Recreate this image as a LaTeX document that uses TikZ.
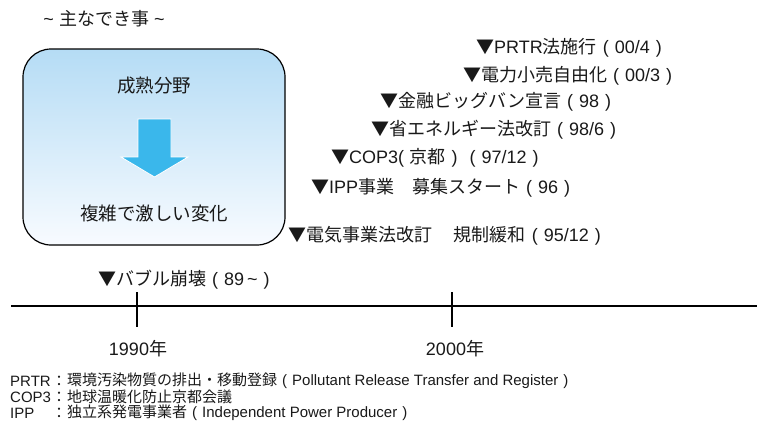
\documentclass[tikz,border=0pt]{standalone}
\usepackage{fontspec}
\setmainfont{Liberation Sans}
\newfontfamily\jp{Noto Sans CJK JP}
\newcommand{\J}[1]{{\jp #1}}
\newcommand{\LP}{\makebox[1em][c]{(}}
\newcommand{\RP}{\makebox[1em][c]{)}}
\newcommand{\TRI}{{\jp ▼}}
\definecolor{boxtop}{RGB}{181,220,245}
\definecolor{boxbot}{RGB}{248,251,255}
\definecolor{arrowblue}{RGB}{58,183,235}
\definecolor{txt}{RGB}{25,25,25}
\tikzset{
  ev/.style={anchor=west, inner sep=0pt, text=txt, font=\fontsize{18}{20}\selectfont},
  yr/.style={anchor=center, inner sep=0pt, text=txt, font=\fontsize{18}{20}\selectfont},
  fn/.style={anchor=west, inner sep=0pt, text=txt, font=\fontsize{15}{17}\selectfont},
  fnc/.style={anchor=center, inner sep=0pt, text=txt, font=\fontsize{15}{17}\selectfont},
  boxtxt/.style={anchor=center, inner sep=0pt, text=txt, font=\fontsize{18.5}{21}\selectfont},
  axis/.style={line width=2.5pt},
}
\begin{document}
\begin{tikzpicture}[x=1pt,y=-1pt]
\useasboundingbox (0,0) rectangle (760,426);
% heading
\node[anchor=center, inner sep=0pt, text=txt, font=\fontsize{18}{20}\selectfont] (head) at (104,19) {\textasciitilde{} \J{主なでき事} \textasciitilde};
% box
\draw[line width=1.2pt, rounded corners=28pt, top color=boxtop, bottom color=boxbot, draw=black] (23,49) rectangle (285,245);
\node[boxtxt] (mature) at (154,86) {\J{成熟分野}};
\node[boxtxt] (complex) at (154,213) {\J{複雑で激しい変化}};
% down arrow
\draw[draw=white, line width=0.8pt, fill=arrowblue] (138,119) -- (171,119) -- (171,157) -- (188,157) -- (154.5,177) -- (121,157) -- (138,157) -- cycle;
% events
\node[ev] (e1) at (476,48) {\TRI PRTR\J{法施行}\LP 00/4\RP};
\node[ev] (e2) at (463,76) {\TRI\J{電力小売自由化}\LP 00/3\RP};
\node[ev] (e3) at (380,102) {\TRI\J{金融ビッグバン宣言}\LP 98\RP};
\node[ev] (e4) at (371,130) {\TRI\J{省エネルギー法改訂}\LP 98/6\RP};
\node[ev] (e5) at (331,158) {\TRI COP3(\hspace{0.3em}\J{京都}\RP\LP 97/12\RP};
\node[ev] (e6) at (311,188) {\TRI IPP\J{事業　募集スタート}\LP 96\RP};
\node[ev] (e7) at (288,236) {\TRI\J{電気事業法改訂}\hspace{1.2em}\J{規制緩和}\LP 95/12\RP};
\node[ev] (e8) at (98,280) {\TRI\J{バブル崩壊}\LP 89\,\textasciitilde\RP};
% timeline
\coordinate (tl) at (11,306);
\coordinate (tr) at (757,306);
\draw[axis] (tl) -- (tr);
\coordinate (t1a) at (137,292); \coordinate (t1b) at (137,327);
\coordinate (t2a) at (452,292); \coordinate (t2b) at (452,327);
\draw[axis] (t1a) -- (t1b);
\draw[axis] (t2a) -- (t2b);
\node[yr] (y1) at (138,349) {1990\J{年}};
\node[yr] (y2) at (455,349) {2000\J{年}};
% footnotes
\node[fn] (f1l) at (10,381) {PRTR};
\node[fn] (f2l) at (10,397) {COP3};
\node[fn] (f3l) at (10,413) {IPP};
\node[fnc] (f1c) at (59,381) {\J{：}};
\node[fnc] (f2c) at (59,397) {\J{：}};
\node[fnc] (f3c) at (59,413) {\J{：}};
\node[fn] (f1) at (67,381) {\J{環境汚染物質の排出・移動登録}\LP Pollutant Release Transfer and Register\RP};
\node[fn] (f2) at (67,397) {\J{地球温暖化防止京都会議}};
\node[fn] (f3) at (67,413) {\J{独立系発電事業者}\LP Independent Power Producer\RP};
\end{tikzpicture}
\end{document}
